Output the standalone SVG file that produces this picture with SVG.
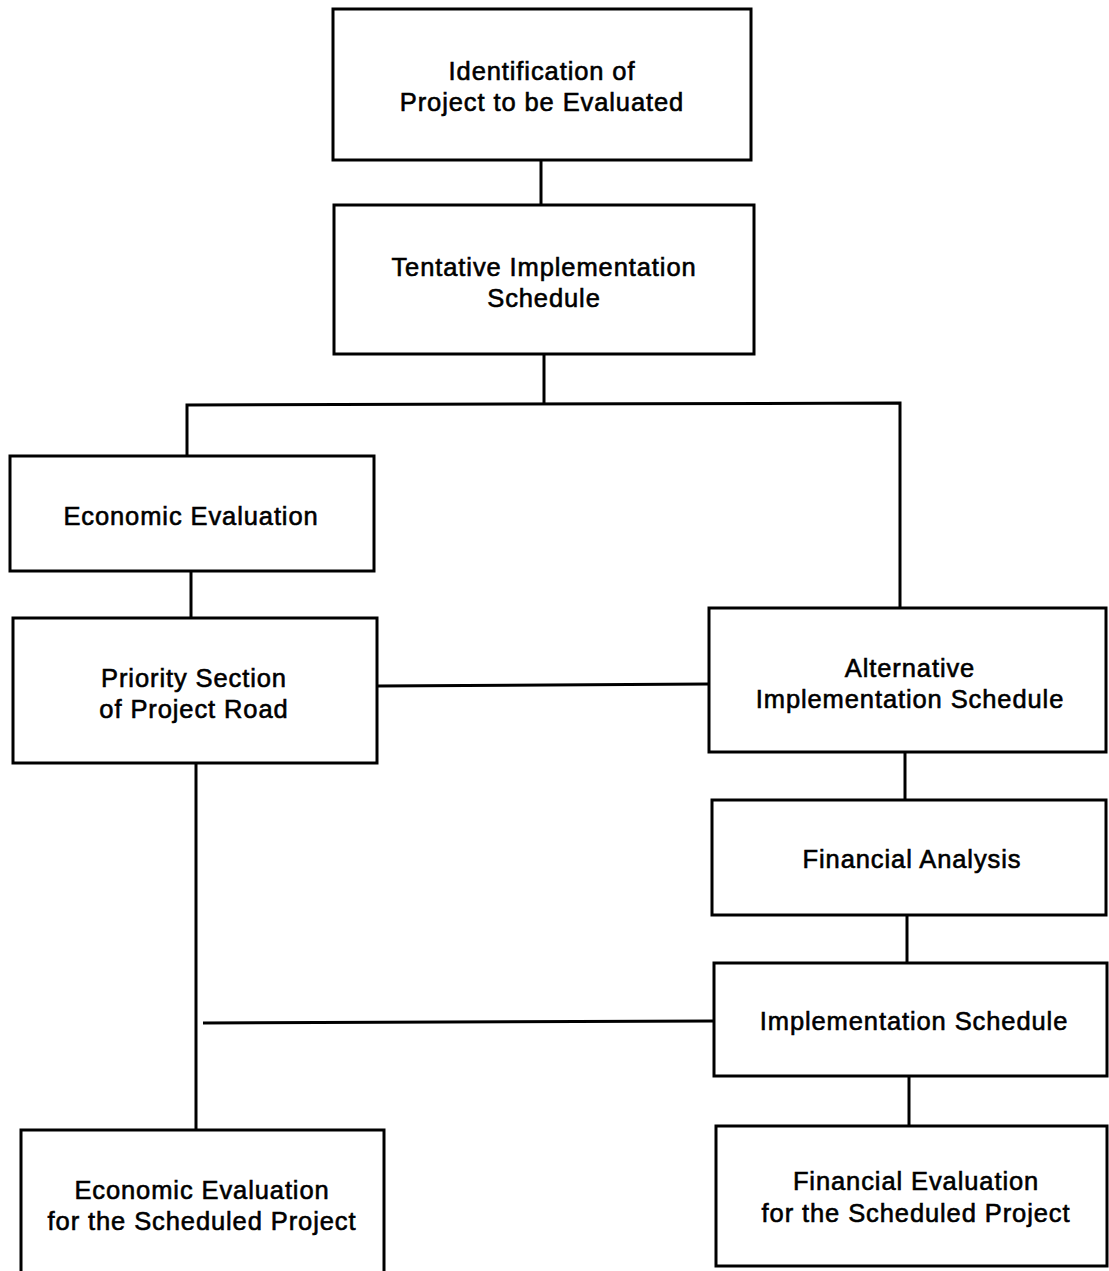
<svg xmlns="http://www.w3.org/2000/svg" width="1109" height="1271" viewBox="0 0 1109 1271">
<style>
.box{fill:#fff;stroke:#000;stroke-width:3}
.ln{fill:none;stroke:#000;stroke-width:3}
.t{font-family:"Liberation Sans",Arial,sans-serif;font-size:25.5px;letter-spacing:0.9px;fill:#000;text-anchor:middle;stroke:#000;stroke-width:0.6}
</style>
<rect width="1109" height="1271" fill="#fff"/>
<g id="connectors">
<line class="ln" x1="541" y1="160" x2="541" y2="205"/>
<polyline class="ln" points="544,354 544,403"/>
<polyline class="ln" points="187,456 187,405 900,403 900,608"/>
<line class="ln" x1="191" y1="571" x2="191" y2="618"/>
<line class="ln" x1="378" y1="686" x2="709" y2="684"/>
<line class="ln" x1="196" y1="763" x2="196" y2="1130"/>
<line class="ln" x1="203" y1="1023" x2="714" y2="1021"/>
<line class="ln" x1="905" y1="752" x2="905" y2="800"/>
<line class="ln" x1="907" y1="915" x2="907" y2="963"/>
<line class="ln" x1="909" y1="1076" x2="909" y2="1126"/>
</g>
<g id="n1"><rect class="box" x="333" y="9" width="418" height="151"/>
<text class="t" x="542" y="80">Identification of</text><text class="t" x="542" y="111">Project to be Evaluated</text></g>
<g id="n2"><rect class="box" x="334" y="205" width="420" height="149"/>
<text class="t" x="544" y="276">Tentative Implementation</text><text class="t" x="544" y="307">Schedule</text></g>
<g id="n3"><rect class="box" x="10" y="456" width="364" height="115"/>
<text class="t" x="191" y="525">Economic Evaluation</text></g>
<g id="n4"><rect class="box" x="13" y="618" width="364" height="145"/>
<text class="t" x="194" y="687">Priority Section</text><text class="t" x="194" y="718">of Project Road</text></g>
<g id="n5"><rect class="box" x="709" y="608" width="397" height="144"/>
<text class="t" x="910" y="677">Alternative</text><text class="t" x="910" y="708">Implementation Schedule</text></g>
<g id="n6"><rect class="box" x="712" y="800" width="394" height="115"/>
<text class="t" x="912" y="868">Financial Analysis</text></g>
<g id="n7"><rect class="box" x="714" y="963" width="393" height="113"/>
<text class="t" x="914" y="1030">Implementation Schedule</text></g>
<g id="n8"><rect class="box" x="21" y="1130" width="363" height="150"/>
<text class="t" x="202" y="1199">Economic Evaluation</text><text class="t" x="202" y="1230">for the Scheduled Project</text></g>
<g id="n9"><rect class="box" x="716" y="1126" width="391" height="140"/>
<text class="t" x="916" y="1190">Financial Evaluation</text><text class="t" x="916" y="1222">for the Scheduled Project</text></g>
</svg>
